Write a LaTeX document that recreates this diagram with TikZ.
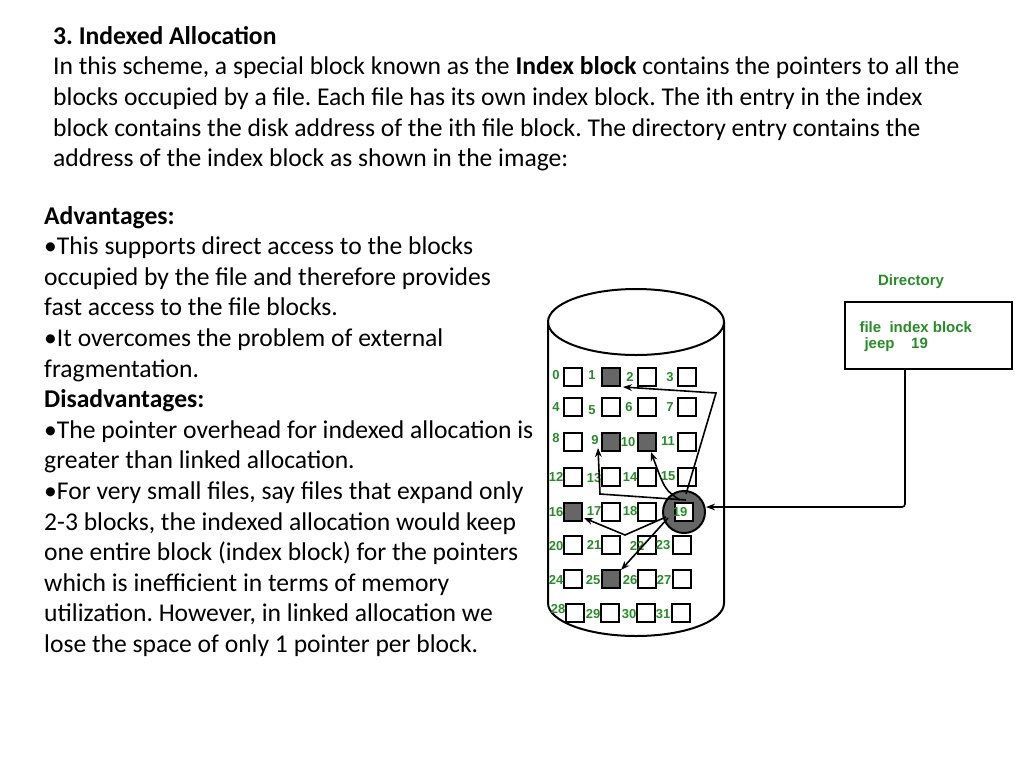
\documentclass[tikz,border=0pt]{standalone}
\usepackage{fontspec}
\setmainfont{Carlito}
\newfontfamily\diagfont{Liberation Sans}
\usetikzlibrary{arrows.meta}
\definecolor{lblgreen}{RGB}{40,140,40}
\frenchspacing
\begin{document}
\begin{tikzpicture}[x=1pt,y=-1pt,
  txt/.style={anchor=north west,inner sep=0pt,align=left,font=\fontsize{25.6}{30.6}\selectfont},
  blk/.style={draw,line width=2pt,minimum size=18pt,inner sep=0pt},
  used/.style={blk,fill=gray!80!black},
  num/.style={font=\diagfont\bfseries\fontsize{13}{13}\selectfont,text=lblgreen,inner sep=1pt},
  dirtxt/.style={font=\diagfont\bfseries\fontsize{15}{15}\selectfont,text=lblgreen},
  ptr/.style={line width=1.6pt,-{Stealth[length=9pt]}}]
  \useasboundingbox (0,0) rectangle (1024,768);
  % text
  \node[txt] (head) at (53,26) {\textbf{3. Indexed Allocation}\\
    In this scheme, a special block known as the \textbf{Index block} contains the pointers to all the\\
    blocks occupied by a file. Each file has its own index block. The ith entry in the index\\
    block contains the disk address of the ith file block. The directory entry contains the\\
    address of the index block as shown in the image:};
  \node[txt] (pros) at (44,206) {\textbf{Advantages:}\\
    •This supports direct access to the blocks\\
    occupied by the file and therefore provides\\
    fast access to the file blocks.\\
    •It overcomes the problem of external\\
    fragmentation.\\
    \textbf{Disadvantages:}\\
    •The pointer overhead for indexed allocation is\\
    greater than linked allocation.\\
    •For very small files, say files that expand only\\
    2-3 blocks, the indexed allocation would keep\\
    one entire block (index block) for the pointers\\
    which is inefficient in terms of memory\\
    utilization. However, in linked allocation we\\
    lose the space of only 1 pointer per block.};
  % disk
  \draw[line width=2pt] (636,322) ellipse (88 and 33);
  \draw[line width=2pt] (548,322) -- (548,603) arc (180:0:88 and 33) -- (724,322);
  \fill[gray!80!black] (684,512) circle (21);
  \draw[line width=2pt] (684,512) circle (21);
  % blocks
  \foreach \n/\x/\y in {0/573/377,1/611/377,2/647/377,3/687/377,
      4/573/407,5/611/407,6/647/407,7/687/407,
      8/573/442,9/611/442,10/647/442,11/687/442,
      12/573/477,13/611/477,14/647/477,15/687/477,
      16/573/512,17/611/512,18/647/512,19/684/512,
      20/573/545,21/611/545,22/647/545,23/682/545,
      24/573/579,25/611/579,26/647/579,27/682/579,
      28/575/613,29/610/613,30/646/613,31/681/613}
    \node[blk] (b\n) at (\x,\y) {};
  \foreach \n in {1,9,10,16,25}
    \node[used] at (b\n) {};
  \node[blk,fill=white] at (b19) {};
  \foreach \n/\x/\y in {0/556/375,1/592/375,2/630/377,3/670/377,
      4/556/407,5/592/410,6/629/407,7/670/407,
      8/556/438,9/595/440,10/628/442,11/668/441,
      12/556/477,13/594/478,14/630/477,15/668/476,
      16/556/512,17/594/511,18/630/511,19/680/512,
      20/556/546,21/594/545,22/637/546,23/663/545,
      24/556/580,25/593/580,26/630/580,27/664/580,
      28/558/609,29/593/614,30/629/614,31/663/614}
    \node[num] (l\n) at (\x,\y) {\n};
  % directory
  \node[dirtxt] (dirlbl) at (911,282) {Directory};
  \draw[line width=2pt] (845,302) rectangle (1012,369);
  \node[dirtxt,anchor=west] (dirrow1) at (856,327) {file\ \ index block};
  \node[dirtxt,anchor=west] (dirrow2) at (861,345) {jeep\ \ \ \ 19};
  \coordinate (dirout) at (905,369);
  \draw[ptr,rounded corners=3pt] (dirout) |- (706,507);
  % pointers
  \draw[ptr] (686,494) -- (716,393) -- (623,387);
  \draw[ptr] (686,500) -- (600,494) -- (598,448);
  \draw[ptr] (680,500) .. controls (665,490) .. (651,452);
  \draw[ptr] (666,517) -- (625,535) -- (584,518);
  \draw[ptr] (668,518) -- (621,570);
\end{tikzpicture}
\end{document}
